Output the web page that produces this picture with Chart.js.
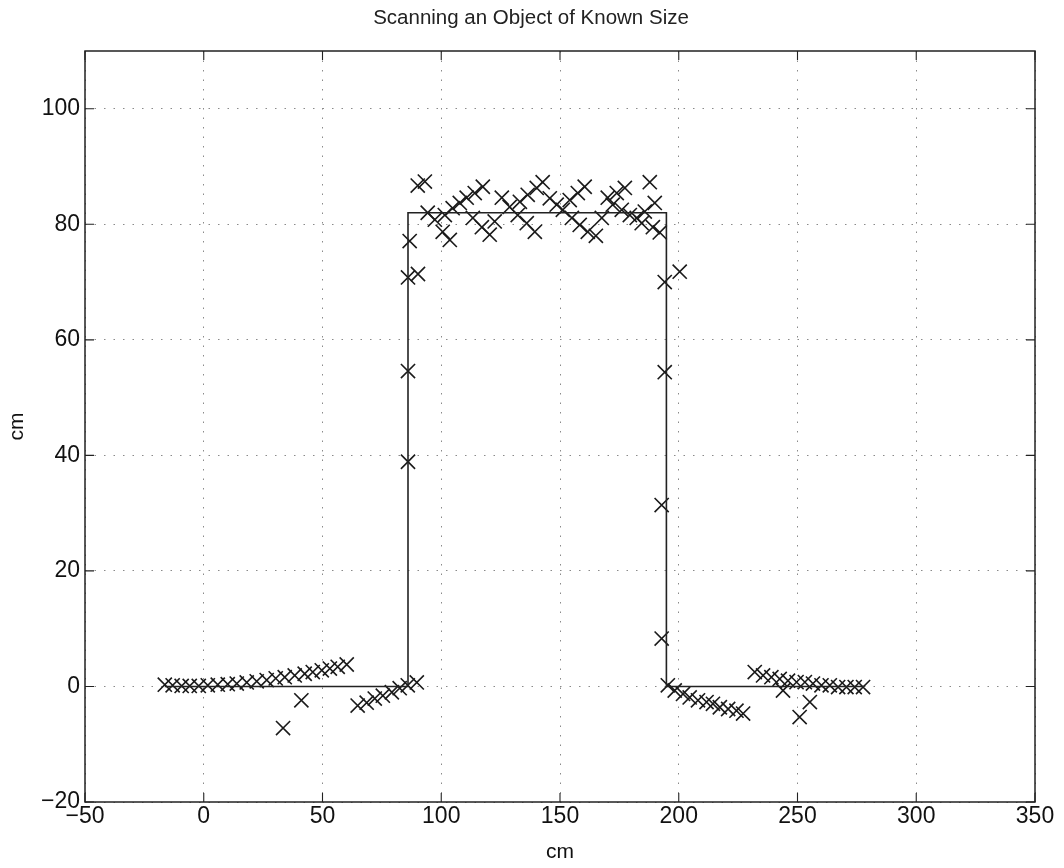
<!DOCTYPE html>
<html>
<head>
<meta charset="utf-8">
<script src="https://cdn.jsdelivr.net/npm/chart.js@4.4.1/dist/chart.umd.min.js"></script>
<style>
  body { margin: 0; background: #fff; }
  #wrap { width: 1064px; height: 868px; }
</style>
</head>
<body>
<div id="wrap"><canvas id="myChart" width="1064" height="868"></canvas></div>
<script>
// measured scan points (cm)
var measX = [
  -16.4, -13.1, -9.3, -5.9, -2.1, 1.7, 5.9, 10.1, 13.9, 18.1, 22.3, 26.5, 30.3, 34.1, 38.3, 42.5, 45.9, 49.7, 53.1, 56.4, 60.2,
  33.4, 41.1,
  64.8, 68.6, 72.0, 75.4, 79.2, 82.5, 85.9, 89.7,
  86.0, 86.0, 86.0, 86.7, 90.2,
  90.1, 93.1, 94.3, 97.3, 100.6, 103.6, 101.5, 104.8, 107.8, 110.7, 114.1, 117.5, 113.3, 117.1, 120.4,
  125.5, 122.5, 128.8, 133.1, 136.4, 140.2, 142.7, 132.2, 136.0, 139.4, 145.7, 148.6, 151.2,
  154.1, 157.5, 160.4, 155.0, 158.3, 161.7, 165.1, 167.6, 170.1, 173.9, 177.3, 172.2, 176.0,
  179.4, 182.3, 184.4, 187.8, 189.9, 185.7, 189.1, 192.0,
  194.1, 200.4, 194.1, 192.8, 192.8, 195.4,
  198.3, 201.8, 204.6, 208.1, 211.7, 214.4, 217.3, 220.8, 224.3, 227.1,
  232.0, 235.5, 239.0, 242.5, 246.0, 249.6, 253.1, 256.5, 260.1, 263.6, 267.1, 270.6, 274.1, 277.6,
  243.9, 250.9, 255.2
];
var measY = [
  0.3, 0.2, 0.1, 0.1, 0.1, 0.2, 0.3, 0.4, 0.5, 0.7, 0.9, 1.1, 1.4, 1.6, 1.9, 2.2, 2.5, 2.8, 3.1, 3.4, 3.8,
  -7.2, -2.4,
  -3.3, -2.8, -2.1, -1.6, -1.0, -0.3, 0.2, 0.7,
  38.9, 54.6, 70.8, 77.1, 71.4,
  86.7, 87.4, 82.0, 80.8, 78.7, 77.3, 81.6, 82.8, 83.7, 84.6, 85.4, 86.5, 81.1, 79.5, 78.2,
  84.6, 80.5, 83.0, 83.9, 85.1, 86.3, 87.3, 81.6, 80.2, 78.7, 84.5, 83.4, 82.5,
  84.2, 85.4, 86.5, 81.1, 79.9, 78.7, 78.0, 81.1, 84.6, 85.4, 86.3, 83.4, 82.5,
  81.6, 81.1, 80.2, 87.3, 83.7, 82.2, 79.5, 78.6,
  70.0, 71.8, 54.4, 31.4, 8.3, 0.2,
  -0.7, -1.3, -1.9, -2.4, -2.7, -3.0, -3.6, -3.9, -4.2, -4.7,
  2.5, 1.9, 1.6, 1.3, 1.0, 0.75, 0.75, 0.5, 0.2, 0.2, -0.1, -0.1, -0.1, -0.1,
  -0.7, -5.3, -2.7
];

// true outline of the object
var objX = [-16.4, 86, 86, 194.8, 194.8, 278];
var objY = [0, 0, 82, 82, 0, 0];

var chartTitle = 'Scanning an Object of Known Size';
var FONT = '"Liberation Sans", Arial, Helvetica, sans-serif';

function toPoints(xs, ys) {
  var pts = [];
  for (var i = 0; i < xs.length; i++) pts.push({ x: xs[i], y: ys[i] });
  return pts;
}

function minusSign(v) {
  return String(v).replace('-', '\u2212');
}

// box round the plot, inward tick marks and the title, like the old matlab axes
var frame = {
  id: 'frame',
  afterDraw: function(chart) {
    var ctx = chart.ctx, a = chart.chartArea;
    var sx = chart.scales.x, sy = chart.scales.y;
    ctx.save();
    ctx.strokeStyle = '#222';
    ctx.lineWidth = 1.5;
    ctx.strokeRect(a.left, a.top, a.right - a.left, a.bottom - a.top);
    ctx.lineWidth = 1.1;
    ctx.beginPath();
    sx.ticks.forEach(function(t) {
      var px = sx.getPixelForValue(t.value);
      ctx.moveTo(px, a.bottom); ctx.lineTo(px, a.bottom - 9);
      ctx.moveTo(px, a.top); ctx.lineTo(px, a.top + 9);
    });
    sy.ticks.forEach(function(t) {
      var py = sy.getPixelForValue(t.value);
      ctx.moveTo(a.left, py); ctx.lineTo(a.left + 9, py);
      ctx.moveTo(a.right, py); ctx.lineTo(a.right - 9, py);
    });
    ctx.stroke();

    ctx.fillStyle = '#222';
    ctx.font = '20.5px ' + FONT;
    ctx.textAlign = 'center';
    ctx.textBaseline = 'middle';
    ctx.fillText(chartTitle, 531, 18);
    ctx.restore();
  }
};

var ctx = document.getElementById('myChart').getContext('2d');
var chart = new Chart(ctx, {
  type: 'scatter',
  data: {
    datasets: [{
      label: 'object',
      type: 'line',
      data: toPoints(objX, objY),
      borderColor: '#222',
      borderWidth: 1.6,
      pointRadius: 0,
      fill: false,
      tension: 0
    }, {
      label: 'measured',
      data: toPoints(measX, measY),
      pointStyle: 'crossRot',
      pointRadius: 10,
      pointHoverRadius: 10,
      borderColor: '#1a1a1a',
      backgroundColor: '#1a1a1a',
      pointBorderWidth: 1.6
    }]
  },
  options: {
    responsive: false,
    animation: false,
    layout: { padding: { left: 0, right: 29, top: 51, bottom: 0 } },
    plugins: {
      legend: { display: false },
      tooltip: { enabled: false },
      title: { display: false }
    },
    scales: {
      x: {
        type: 'linear',
        min: -50,
        max: 350,
        afterFit: function(s) { s.height = 66; },
        ticks: {
          stepSize: 50,
          color: '#111',
          padding: 1,
          font: { family: FONT, size: 23 },
          callback: function(v) { return minusSign(v); }
        },
        grid: { color: '#8a8a8a', lineWidth: 1, drawTicks: false, borderDash: [1.5, 8] },
        border: { display: false, dash: [1.5, 8] },
        title: { display: true, text: 'cm', color: '#111', font: { family: FONT, size: 21 }, padding: { top: 2, bottom: 3 } }
      },
      y: {
        type: 'linear',
        min: -20,
        max: 110,
        afterFit: function(s) { s.width = 85; },
        ticks: {
          stepSize: 20,
          includeBounds: false,
          color: '#111',
          padding: 5,
          font: { family: FONT, size: 23 },
          callback: function(v) { return minusSign(v); }
        },
        grid: { color: '#8a8a8a', lineWidth: 1, drawTicks: false, borderDash: [1.5, 8] },
        border: { display: false, dash: [1.5, 8] },
        title: { display: true, text: 'cm', color: '#111', font: { family: FONT, size: 21 }, padding: { top: 5, bottom: 0 } }
      }
    }
  },
  plugins: [frame]
});
</script>
</body>
</html>
